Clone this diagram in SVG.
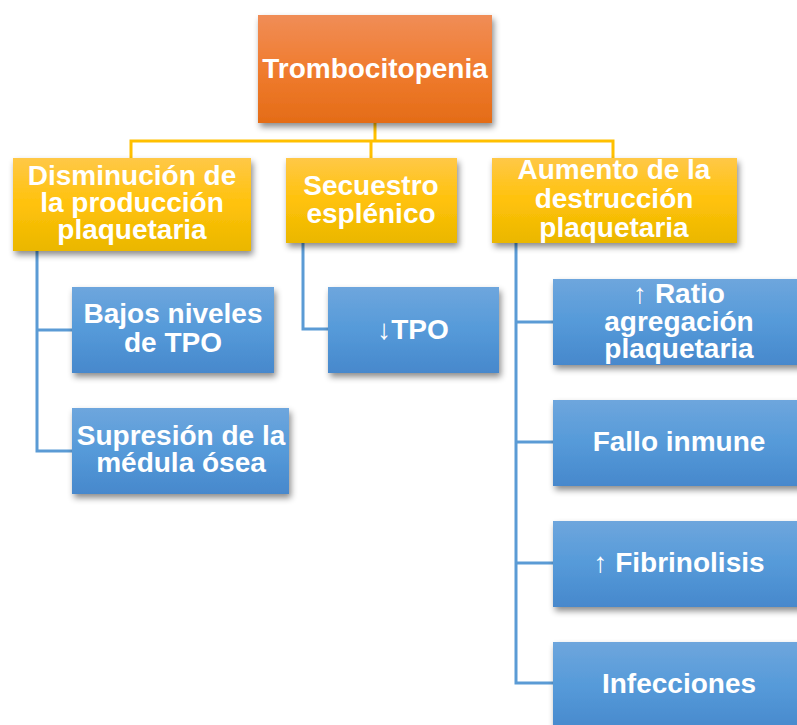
<svg xmlns="http://www.w3.org/2000/svg" width="797" height="725" viewBox="0 0 797 725">
<style>
text{font-family:"Liberation Sans",Arial,sans-serif;font-weight:bold;font-size:28px;fill:#fff;text-anchor:middle}
.yl{fill:none;stroke:#FFC000;stroke-width:3}
.bl{fill:none;stroke:#5B9BD5;stroke-width:3}
</style>
<defs>
<linearGradient id="go" x1="0" y1="0" x2="0" y2="1"><stop offset="0" stop-color="#F08D57"/><stop offset="0.5" stop-color="#F07C2F"/><stop offset="1" stop-color="#E46C17"/></linearGradient>
<linearGradient id="gy" x1="0" y1="0" x2="0" y2="1"><stop offset="0" stop-color="#FFC847"/><stop offset="0.5" stop-color="#FFC20A"/><stop offset="1" stop-color="#EAB700"/></linearGradient>
<linearGradient id="gb" x1="0" y1="0" x2="0" y2="1"><stop offset="0" stop-color="#6EA6DD"/><stop offset="0.5" stop-color="#559AD9"/><stop offset="1" stop-color="#4788CC"/></linearGradient>
<filter id="sh" x="-10%" y="-10%" width="125%" height="135%"><feDropShadow dx="2" dy="4" stdDeviation="3" flood-color="#000" flood-opacity="0.45"/></filter>
</defs>
<g id="connectors">
<path class="yl" d="M375 123V141M131 158V141H613V158M371 141V158"/>
<path class="bl" d="M37 251V451H72M37 330H72"/>
<path class="bl" d="M303 243V329H328"/>
<path class="bl" d="M516 243V683H553M516 322H553M516 442H553M516 563H553"/>
</g>
<g id="n-trombocitopenia"><rect x="258" y="15" width="234" height="108" fill="url(#go)" filter="url(#sh)"/><text x="375" y="78" font-size="29">Trombocitopenia</text></g>
<g id="n-disminucion"><rect x="13" y="158" width="238" height="93" fill="url(#gy)" filter="url(#sh)"/><text x="132" y="185">Disminución de</text><text x="132" y="212">la producción</text><text x="132" y="239">plaquetaria</text></g>
<g id="n-secuestro"><rect x="286" y="158" width="171" height="85" fill="url(#gy)" filter="url(#sh)"/><text x="371" y="195">Secuestro</text><text x="371" y="223">esplénico</text></g>
<g id="n-aumento"><rect x="492" y="158" width="245" height="85" fill="url(#gy)" filter="url(#sh)"/><text x="614" y="179">Aumento de la</text><text x="614" y="208">destrucción</text><text x="614" y="237">plaquetaria</text></g>
<g id="n-bajos"><rect x="72" y="287" width="202" height="86" fill="url(#gb)" filter="url(#sh)"/><text x="173" y="323">Bajos niveles</text><text x="173" y="352">de TPO</text></g>
<g id="n-supresion"><rect x="72" y="408" width="217" height="86" fill="url(#gb)" filter="url(#sh)"/><text x="181" y="445">Supresión de la</text><text x="181" y="472">médula ósea</text></g>
<g id="n-tpo"><rect x="328" y="287" width="171" height="86" fill="url(#gb)" filter="url(#sh)"/><text x="413" y="339">↓TPO</text></g>
<g id="n-ratio"><rect x="553" y="279" width="252" height="86" fill="url(#gb)" filter="url(#sh)"/><text x="679" y="303">↑ Ratio</text><text x="679" y="331">agregación</text><text x="679" y="358">plaquetaria</text></g>
<g id="n-fallo"><rect x="553" y="400" width="252" height="86" fill="url(#gb)" filter="url(#sh)"/><text x="679" y="451">Fallo inmune</text></g>
<g id="n-fibrinolisis"><rect x="553" y="521" width="252" height="86" fill="url(#gb)" filter="url(#sh)"/><text x="679" y="572">↑ Fibrinolisis</text></g>
<g id="n-infecciones"><rect x="553" y="642" width="252" height="90" fill="url(#gb)" filter="url(#sh)"/><text x="679" y="693">Infecciones</text></g>
</svg>
